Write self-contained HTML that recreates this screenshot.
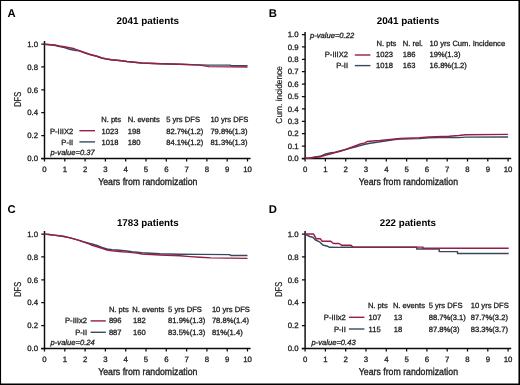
<!DOCTYPE html>
<html><head><meta charset="utf-8"><style>
html,body{margin:0;padding:0;background:#fff;width:520px;height:385px;overflow:hidden}
svg{display:block;filter:blur(0.35px)}
text{text-rendering:geometricPrecision}
</style></head><body>
<svg width="520" height="385" viewBox="0 0 520 385" font-family='"Liberation Sans", sans-serif'>
<rect width="520" height="385" fill="#fff"/>
<text x="7.6" y="17.0" font-size="11.3" font-weight="bold" fill="#000">A</text>
<text x="147.8" y="23.7" font-size="9.8" text-anchor="middle" font-weight="bold" textLength="62.5" lengthAdjust="spacingAndGlyphs" fill="#000">2041 patients</text>
<path d="M44.50 41.00V158.50M41.20 158.50H250.60" stroke="#0c0c0c" stroke-width="1.45" fill="none"/>
<path d="M41.30 158.50H44.50M41.30 135.62H44.50M41.30 112.74H44.50M41.30 89.86H44.50M41.30 66.98H44.50M41.30 44.10H44.50M44.50 158.50V161.40M64.80 158.50V161.40M85.10 158.50V161.40M105.40 158.50V161.40M125.70 158.50V161.40M146.00 158.50V161.40M166.30 158.50V161.40M186.60 158.50V161.40M206.90 158.50V161.40M227.20 158.50V161.40M247.50 158.50V161.40" stroke="#0c0c0c" stroke-width="1.25" fill="none"/>
<text x="38.0" y="161.20" font-size="7.8" text-anchor="end" fill="#1e1e1e" stroke="#1e1e1e" stroke-width="0.3">0.0</text>
<text x="38.0" y="138.32" font-size="7.8" text-anchor="end" fill="#1e1e1e" stroke="#1e1e1e" stroke-width="0.3">0.2</text>
<text x="38.0" y="115.44" font-size="7.8" text-anchor="end" fill="#1e1e1e" stroke="#1e1e1e" stroke-width="0.3">0.4</text>
<text x="38.0" y="92.56" font-size="7.8" text-anchor="end" fill="#1e1e1e" stroke="#1e1e1e" stroke-width="0.3">0.6</text>
<text x="38.0" y="69.68" font-size="7.8" text-anchor="end" fill="#1e1e1e" stroke="#1e1e1e" stroke-width="0.3">0.8</text>
<text x="38.0" y="46.80" font-size="7.8" text-anchor="end" fill="#1e1e1e" stroke="#1e1e1e" stroke-width="0.3">1.0</text>
<text x="44.50" y="171.6" font-size="7.8" text-anchor="middle" fill="#1e1e1e" stroke="#1e1e1e" stroke-width="0.3">0</text>
<text x="64.80" y="171.6" font-size="7.8" text-anchor="middle" fill="#1e1e1e" stroke="#1e1e1e" stroke-width="0.3">1</text>
<text x="85.10" y="171.6" font-size="7.8" text-anchor="middle" fill="#1e1e1e" stroke="#1e1e1e" stroke-width="0.3">2</text>
<text x="105.40" y="171.6" font-size="7.8" text-anchor="middle" fill="#1e1e1e" stroke="#1e1e1e" stroke-width="0.3">3</text>
<text x="125.70" y="171.6" font-size="7.8" text-anchor="middle" fill="#1e1e1e" stroke="#1e1e1e" stroke-width="0.3">4</text>
<text x="146.00" y="171.6" font-size="7.8" text-anchor="middle" fill="#1e1e1e" stroke="#1e1e1e" stroke-width="0.3">5</text>
<text x="166.30" y="171.6" font-size="7.8" text-anchor="middle" fill="#1e1e1e" stroke="#1e1e1e" stroke-width="0.3">6</text>
<text x="186.60" y="171.6" font-size="7.8" text-anchor="middle" fill="#1e1e1e" stroke="#1e1e1e" stroke-width="0.3">7</text>
<text x="206.90" y="171.6" font-size="7.8" text-anchor="middle" fill="#1e1e1e" stroke="#1e1e1e" stroke-width="0.3">8</text>
<text x="227.20" y="171.6" font-size="7.8" text-anchor="middle" fill="#1e1e1e" stroke="#1e1e1e" stroke-width="0.3">9</text>
<text x="247.50" y="171.6" font-size="7.8" text-anchor="middle" fill="#1e1e1e" stroke="#1e1e1e" stroke-width="0.3">10</text>
<text x="98.2" y="185.0" font-size="10.0" textLength="99.2" lengthAdjust="spacingAndGlyphs" fill="#1e1e1e" stroke="#1e1e1e" stroke-width="0.35">Years from randomization</text>
<text transform="translate(21.40 99.35) rotate(-90)" font-size="9.9" text-anchor="middle" textLength="15.0" lengthAdjust="spacingAndGlyphs" fill="#1e1e1e" stroke="#1e1e1e" stroke-width="0.2">DFS</text>
<path d="M44.50 44.20 L54.45 45.20 L59.52 46.50 L64.39 47.50 L69.47 49.20 L74.54 50.20 L76.57 50.60 L79.42 50.90 L84.09 52.50 L89.16 54.20 L92.00 55.00 L96.87 56.20 L101.75 58.00 L106.62 59.00 L111.49 59.70 L116.56 60.30 L121.64 60.80 L126.92 61.50 L131.79 62.00 L136.87 62.50 L141.94 63.00 L160.21 63.70 L179.90 64.20 L200.00 64.90 L208.93 65.10 L230.25 65.10 L231.26 65.80 L247.50 65.80" stroke="#38495e" stroke-width="1.45" fill="none" stroke-linejoin="round"/>
<path d="M44.50 44.20 L54.45 45.00 L59.52 46.00 L64.39 46.80 L69.47 47.80 L74.54 48.80 L76.57 49.80 L79.42 50.80 L84.09 52.50 L89.16 54.20 L92.00 55.00 L96.87 56.20 L101.75 58.00 L106.62 59.00 L111.49 59.70 L116.56 60.30 L121.64 60.80 L126.92 61.50 L131.79 62.00 L136.87 62.50 L141.94 63.00 L160.21 63.70 L179.90 64.20 L200.00 65.10 L208.93 66.60 L231.26 66.90 L247.50 66.90" stroke="#961e47" stroke-width="1.45" fill="none" stroke-linejoin="round"/>
<text x="101.20" y="121.60" font-size="7.6" fill="#1e1e1e" stroke="#1e1e1e" stroke-width="0.3">N. pts</text>
<text x="127.70" y="121.60" font-size="7.6" fill="#1e1e1e" stroke="#1e1e1e" stroke-width="0.3">N. events</text>
<text x="166.20" y="121.60" font-size="7.6" fill="#1e1e1e" stroke="#1e1e1e" stroke-width="0.3">5 yrs DFS</text>
<text x="210.40" y="121.60" font-size="7.6" fill="#1e1e1e" stroke="#1e1e1e" stroke-width="0.3">10 yrs DFS</text>
<text x="73.20" y="133.70" font-size="7.6" text-anchor="end" fill="#1e1e1e" stroke="#1e1e1e" stroke-width="0.3">P-IIIX2</text>
<path d="M79.40 130.70H95.00" stroke="#961e47" stroke-width="1.4"/>
<text x="101.50" y="133.70" font-size="7.6" fill="#1e1e1e" stroke="#1e1e1e" stroke-width="0.3">1023</text>
<text x="127.70" y="133.70" font-size="7.6" fill="#1e1e1e" stroke="#1e1e1e" stroke-width="0.3">198</text>
<text x="166.20" y="133.70" font-size="7.6" fill="#1e1e1e" stroke="#1e1e1e" stroke-width="0.3">82.7%(1.2)</text>
<text x="210.40" y="133.70" font-size="7.6" fill="#1e1e1e" stroke="#1e1e1e" stroke-width="0.3">79.8%(1.3)</text>
<text x="73.20" y="144.90" font-size="7.6" text-anchor="end" fill="#1e1e1e" stroke="#1e1e1e" stroke-width="0.3">P-II</text>
<path d="M79.40 141.90H95.00" stroke="#38495e" stroke-width="1.4"/>
<text x="101.50" y="144.90" font-size="7.6" fill="#1e1e1e" stroke="#1e1e1e" stroke-width="0.3">1018</text>
<text x="127.70" y="144.90" font-size="7.6" fill="#1e1e1e" stroke="#1e1e1e" stroke-width="0.3">180</text>
<text x="166.20" y="144.90" font-size="7.6" fill="#1e1e1e" stroke="#1e1e1e" stroke-width="0.3">84.1%(1.2)</text>
<text x="210.40" y="144.90" font-size="7.6" fill="#1e1e1e" stroke="#1e1e1e" stroke-width="0.3">81.3%(1.3)</text>
<text x="50.60" y="155.20" font-size="7.6" font-style="italic" fill="#1e1e1e" stroke="#1e1e1e" stroke-width="0.3">p-value=0.37</text>
<text x="268.8" y="17.0" font-size="11.3" font-weight="bold" fill="#000">B</text>
<text x="407.90000000000003" y="23.6" font-size="9.8" text-anchor="middle" font-weight="bold" textLength="62.5" lengthAdjust="spacingAndGlyphs" fill="#000">2041 patients</text>
<path d="M305.10 32.00V158.50M301.80 158.50H511.20" stroke="#0c0c0c" stroke-width="1.45" fill="none"/>
<path d="M301.90 158.50H305.10M301.90 146.10H305.10M301.90 133.70H305.10M301.90 121.30H305.10M301.90 108.90H305.10M301.90 96.50H305.10M301.90 84.10H305.10M301.90 71.70H305.10M301.90 59.30H305.10M301.90 46.90H305.10M301.90 34.50H305.10M305.10 158.50V161.40M325.40 158.50V161.40M345.70 158.50V161.40M366.00 158.50V161.40M386.30 158.50V161.40M406.60 158.50V161.40M426.90 158.50V161.40M447.20 158.50V161.40M467.50 158.50V161.40M487.80 158.50V161.40M508.10 158.50V161.40" stroke="#0c0c0c" stroke-width="1.25" fill="none"/>
<text x="298.6" y="161.20" font-size="7.8" text-anchor="end" fill="#1e1e1e" stroke="#1e1e1e" stroke-width="0.3">0.0</text>
<text x="298.6" y="148.80" font-size="7.8" text-anchor="end" fill="#1e1e1e" stroke="#1e1e1e" stroke-width="0.3">0.1</text>
<text x="298.6" y="136.40" font-size="7.8" text-anchor="end" fill="#1e1e1e" stroke="#1e1e1e" stroke-width="0.3">0.2</text>
<text x="298.6" y="124.00" font-size="7.8" text-anchor="end" fill="#1e1e1e" stroke="#1e1e1e" stroke-width="0.3">0.3</text>
<text x="298.6" y="111.60" font-size="7.8" text-anchor="end" fill="#1e1e1e" stroke="#1e1e1e" stroke-width="0.3">0.4</text>
<text x="298.6" y="99.20" font-size="7.8" text-anchor="end" fill="#1e1e1e" stroke="#1e1e1e" stroke-width="0.3">0.5</text>
<text x="298.6" y="86.80" font-size="7.8" text-anchor="end" fill="#1e1e1e" stroke="#1e1e1e" stroke-width="0.3">0.6</text>
<text x="298.6" y="74.40" font-size="7.8" text-anchor="end" fill="#1e1e1e" stroke="#1e1e1e" stroke-width="0.3">0.7</text>
<text x="298.6" y="62.00" font-size="7.8" text-anchor="end" fill="#1e1e1e" stroke="#1e1e1e" stroke-width="0.3">0.8</text>
<text x="298.6" y="49.60" font-size="7.8" text-anchor="end" fill="#1e1e1e" stroke="#1e1e1e" stroke-width="0.3">0.9</text>
<text x="298.6" y="37.20" font-size="7.8" text-anchor="end" fill="#1e1e1e" stroke="#1e1e1e" stroke-width="0.3">1.0</text>
<text x="305.10" y="171.6" font-size="7.8" text-anchor="middle" fill="#1e1e1e" stroke="#1e1e1e" stroke-width="0.3">0</text>
<text x="325.40" y="171.6" font-size="7.8" text-anchor="middle" fill="#1e1e1e" stroke="#1e1e1e" stroke-width="0.3">1</text>
<text x="345.70" y="171.6" font-size="7.8" text-anchor="middle" fill="#1e1e1e" stroke="#1e1e1e" stroke-width="0.3">2</text>
<text x="366.00" y="171.6" font-size="7.8" text-anchor="middle" fill="#1e1e1e" stroke="#1e1e1e" stroke-width="0.3">3</text>
<text x="386.30" y="171.6" font-size="7.8" text-anchor="middle" fill="#1e1e1e" stroke="#1e1e1e" stroke-width="0.3">4</text>
<text x="406.60" y="171.6" font-size="7.8" text-anchor="middle" fill="#1e1e1e" stroke="#1e1e1e" stroke-width="0.3">5</text>
<text x="426.90" y="171.6" font-size="7.8" text-anchor="middle" fill="#1e1e1e" stroke="#1e1e1e" stroke-width="0.3">6</text>
<text x="447.20" y="171.6" font-size="7.8" text-anchor="middle" fill="#1e1e1e" stroke="#1e1e1e" stroke-width="0.3">7</text>
<text x="467.50" y="171.6" font-size="7.8" text-anchor="middle" fill="#1e1e1e" stroke="#1e1e1e" stroke-width="0.3">8</text>
<text x="487.80" y="171.6" font-size="7.8" text-anchor="middle" fill="#1e1e1e" stroke="#1e1e1e" stroke-width="0.3">9</text>
<text x="508.10" y="171.6" font-size="7.8" text-anchor="middle" fill="#1e1e1e" stroke="#1e1e1e" stroke-width="0.3">10</text>
<text x="358.8" y="185.0" font-size="10.0" textLength="99.2" lengthAdjust="spacingAndGlyphs" fill="#1e1e1e" stroke="#1e1e1e" stroke-width="0.35">Years from randomization</text>
<text transform="translate(281.90 94.85) rotate(-90)" font-size="8.8" text-anchor="middle" textLength="57.6" lengthAdjust="spacingAndGlyphs" fill="#1e1e1e" stroke="#1e1e1e" stroke-width="0.2">Cum. incidence</text>
<path d="M305.10 158.30 L309.16 158.10 L315.25 157.00 L320.12 156.30 L324.99 154.20 L330.07 153.00 L335.14 152.20 L340.02 151.00 L344.69 149.80 L349.76 148.20 L355.04 147.00 L360.32 145.60 L364.99 144.30 L370.06 143.20 L375.14 142.50 L380.21 141.80 L385.08 141.00 L390.16 140.20 L395.03 139.50 L400.10 139.10 L419.19 138.60 L428.93 137.80 L449.03 137.40 L458.97 137.60 L465.47 137.10 L508.10 137.00" stroke="#38495e" stroke-width="1.45" fill="none" stroke-linejoin="round"/>
<path d="M305.10 158.30 L309.16 158.20 L315.25 157.30 L320.12 156.80 L324.99 155.20 L330.07 154.00 L335.14 152.60 L340.02 151.20 L344.69 149.90 L349.76 148.00 L355.04 146.00 L360.32 144.00 L364.99 142.90 L367.02 141.50 L370.06 141.20 L375.14 140.80 L380.21 140.50 L385.08 140.00 L390.16 139.50 L395.03 139.00 L400.10 138.50 L419.19 137.80 L428.93 137.00 L449.03 136.30 L458.97 135.50 L465.47 134.70 L508.10 134.40" stroke="#961e47" stroke-width="1.45" fill="none" stroke-linejoin="round"/>
<text x="310.00" y="38.00" font-size="7.6" font-style="italic" fill="#1e1e1e" stroke="#1e1e1e" stroke-width="0.3">p-value=0.22</text>
<text x="376.50" y="45.90" font-size="7.6" fill="#1e1e1e" stroke="#1e1e1e" stroke-width="0.3">N. pts</text>
<text x="402.70" y="45.90" font-size="7.6" fill="#1e1e1e" stroke="#1e1e1e" stroke-width="0.3">N. rel.</text>
<text x="429.60" y="45.90" font-size="7.6" fill="#1e1e1e" stroke="#1e1e1e" stroke-width="0.3">10 yrs Cum. Incidence</text>
<text x="348.00" y="57.10" font-size="7.6" text-anchor="end" fill="#1e1e1e" stroke="#1e1e1e" stroke-width="0.3">P-IIIX2</text>
<path d="M354.80 55.00H370.40" stroke="#961e47" stroke-width="1.4"/>
<text x="376.00" y="57.10" font-size="7.6" fill="#1e1e1e" stroke="#1e1e1e" stroke-width="0.3">1023</text>
<text x="402.70" y="57.10" font-size="7.6" fill="#1e1e1e" stroke="#1e1e1e" stroke-width="0.3">186</text>
<text x="429.60" y="57.10" font-size="7.6" fill="#1e1e1e" stroke="#1e1e1e" stroke-width="0.3">19%(1.3)</text>
<text x="348.00" y="68.10" font-size="7.6" text-anchor="end" fill="#1e1e1e" stroke="#1e1e1e" stroke-width="0.3">P-II</text>
<path d="M354.80 65.60H370.40" stroke="#38495e" stroke-width="1.4"/>
<text x="376.00" y="68.10" font-size="7.6" fill="#1e1e1e" stroke="#1e1e1e" stroke-width="0.3">1018</text>
<text x="402.70" y="68.10" font-size="7.6" fill="#1e1e1e" stroke="#1e1e1e" stroke-width="0.3">163</text>
<text x="429.60" y="68.10" font-size="7.6" fill="#1e1e1e" stroke="#1e1e1e" stroke-width="0.3">16.8%(1.2)</text>
<text x="7.6" y="212.9" font-size="11.3" font-weight="bold" fill="#000">C</text>
<text x="147.8" y="226.1" font-size="9.8" text-anchor="middle" font-weight="bold" textLength="61.8" lengthAdjust="spacingAndGlyphs" fill="#000">1783 patients</text>
<path d="M44.50 231.00V348.50M41.20 348.50H250.60" stroke="#0c0c0c" stroke-width="1.45" fill="none"/>
<path d="M41.30 348.50H44.50M41.30 325.62H44.50M41.30 302.74H44.50M41.30 279.86H44.50M41.30 256.98H44.50M41.30 234.10H44.50M44.50 348.50V351.40M64.80 348.50V351.40M85.10 348.50V351.40M105.40 348.50V351.40M125.70 348.50V351.40M146.00 348.50V351.40M166.30 348.50V351.40M186.60 348.50V351.40M206.90 348.50V351.40M227.20 348.50V351.40M247.50 348.50V351.40" stroke="#0c0c0c" stroke-width="1.25" fill="none"/>
<text x="38.0" y="351.20" font-size="7.8" text-anchor="end" fill="#1e1e1e" stroke="#1e1e1e" stroke-width="0.3">0.0</text>
<text x="38.0" y="328.32" font-size="7.8" text-anchor="end" fill="#1e1e1e" stroke="#1e1e1e" stroke-width="0.3">0.2</text>
<text x="38.0" y="305.44" font-size="7.8" text-anchor="end" fill="#1e1e1e" stroke="#1e1e1e" stroke-width="0.3">0.4</text>
<text x="38.0" y="282.56" font-size="7.8" text-anchor="end" fill="#1e1e1e" stroke="#1e1e1e" stroke-width="0.3">0.6</text>
<text x="38.0" y="259.68" font-size="7.8" text-anchor="end" fill="#1e1e1e" stroke="#1e1e1e" stroke-width="0.3">0.8</text>
<text x="38.0" y="236.80" font-size="7.8" text-anchor="end" fill="#1e1e1e" stroke="#1e1e1e" stroke-width="0.3">1.0</text>
<text x="44.50" y="361.6" font-size="7.8" text-anchor="middle" fill="#1e1e1e" stroke="#1e1e1e" stroke-width="0.3">0</text>
<text x="64.80" y="361.6" font-size="7.8" text-anchor="middle" fill="#1e1e1e" stroke="#1e1e1e" stroke-width="0.3">1</text>
<text x="85.10" y="361.6" font-size="7.8" text-anchor="middle" fill="#1e1e1e" stroke="#1e1e1e" stroke-width="0.3">2</text>
<text x="105.40" y="361.6" font-size="7.8" text-anchor="middle" fill="#1e1e1e" stroke="#1e1e1e" stroke-width="0.3">3</text>
<text x="125.70" y="361.6" font-size="7.8" text-anchor="middle" fill="#1e1e1e" stroke="#1e1e1e" stroke-width="0.3">4</text>
<text x="146.00" y="361.6" font-size="7.8" text-anchor="middle" fill="#1e1e1e" stroke="#1e1e1e" stroke-width="0.3">5</text>
<text x="166.30" y="361.6" font-size="7.8" text-anchor="middle" fill="#1e1e1e" stroke="#1e1e1e" stroke-width="0.3">6</text>
<text x="186.60" y="361.6" font-size="7.8" text-anchor="middle" fill="#1e1e1e" stroke="#1e1e1e" stroke-width="0.3">7</text>
<text x="206.90" y="361.6" font-size="7.8" text-anchor="middle" fill="#1e1e1e" stroke="#1e1e1e" stroke-width="0.3">8</text>
<text x="227.20" y="361.6" font-size="7.8" text-anchor="middle" fill="#1e1e1e" stroke="#1e1e1e" stroke-width="0.3">9</text>
<text x="247.50" y="361.6" font-size="7.8" text-anchor="middle" fill="#1e1e1e" stroke="#1e1e1e" stroke-width="0.3">10</text>
<text x="98.2" y="375.0" font-size="10.0" textLength="99.2" lengthAdjust="spacingAndGlyphs" fill="#1e1e1e" stroke="#1e1e1e" stroke-width="0.35">Years from randomization</text>
<text transform="translate(21.40 289.35) rotate(-90)" font-size="9.9" text-anchor="middle" textLength="15.0" lengthAdjust="spacingAndGlyphs" fill="#1e1e1e" stroke="#1e1e1e" stroke-width="0.2">DFS</text>
<path d="M44.50 234.10 L48.97 234.50 L54.04 235.10 L58.91 235.70 L63.99 236.50 L69.06 237.60 L73.94 238.90 L79.01 240.40 L84.09 242.00 L88.96 243.30 L92.00 244.00 L97.08 245.50 L101.95 247.50 L107.02 249.00 L112.10 249.70 L116.97 250.00 L122.05 250.50 L126.92 251.00 L131.99 251.80 L137.07 252.20 L141.94 252.80 L160.01 253.80 L179.90 254.30 L200.00 254.40 L229.23 254.60 L231.26 255.50 L247.50 255.50" stroke="#38495e" stroke-width="1.45" fill="none" stroke-linejoin="round"/>
<path d="M44.50 234.10 L48.97 234.50 L54.04 235.10 L58.91 235.70 L63.99 236.50 L69.06 237.60 L73.94 238.90 L79.01 240.40 L84.09 242.10 L88.96 243.90 L92.00 245.30 L97.08 246.80 L101.95 248.30 L107.02 250.00 L112.10 250.80 L116.97 251.30 L122.05 251.80 L126.92 252.10 L131.99 252.60 L137.07 253.10 L141.94 254.00 L160.01 255.00 L179.90 255.80 L190.05 256.60 L200.00 257.20 L210.96 257.90 L247.50 258.40" stroke="#961e47" stroke-width="1.45" fill="none" stroke-linejoin="round"/>
<text x="108.90" y="311.90" font-size="7.6" fill="#1e1e1e" stroke="#1e1e1e" stroke-width="0.3">N. pts</text>
<text x="132.30" y="311.90" font-size="7.6" fill="#1e1e1e" stroke="#1e1e1e" stroke-width="0.3">N. events</text>
<text x="168.10" y="311.90" font-size="7.6" fill="#1e1e1e" stroke="#1e1e1e" stroke-width="0.3">5 yrs DFS</text>
<text x="211.90" y="311.90" font-size="7.6" fill="#1e1e1e" stroke="#1e1e1e" stroke-width="0.3">10 yrs DFS</text>
<text x="87.00" y="323.10" font-size="7.6" text-anchor="end" fill="#1e1e1e" stroke="#1e1e1e" stroke-width="0.3">P-IIIx2</text>
<path d="M90.60 320.90H105.80" stroke="#961e47" stroke-width="1.4"/>
<text x="108.90" y="323.10" font-size="7.6" fill="#1e1e1e" stroke="#1e1e1e" stroke-width="0.3">896</text>
<text x="133.10" y="323.10" font-size="7.6" fill="#1e1e1e" stroke="#1e1e1e" stroke-width="0.3">182</text>
<text x="168.10" y="323.10" font-size="7.6" fill="#1e1e1e" stroke="#1e1e1e" stroke-width="0.3">81.9%(1.3)</text>
<text x="211.90" y="323.10" font-size="7.6" fill="#1e1e1e" stroke="#1e1e1e" stroke-width="0.3">78.8%(1.4)</text>
<text x="87.00" y="334.50" font-size="7.6" text-anchor="end" fill="#1e1e1e" stroke="#1e1e1e" stroke-width="0.3">P-II</text>
<path d="M90.60 332.30H105.80" stroke="#38495e" stroke-width="1.4"/>
<text x="108.90" y="334.50" font-size="7.6" fill="#1e1e1e" stroke="#1e1e1e" stroke-width="0.3">887</text>
<text x="133.10" y="334.50" font-size="7.6" fill="#1e1e1e" stroke="#1e1e1e" stroke-width="0.3">160</text>
<text x="168.10" y="334.50" font-size="7.6" fill="#1e1e1e" stroke="#1e1e1e" stroke-width="0.3">83.5%(1.3)</text>
<text x="211.90" y="334.50" font-size="7.6" fill="#1e1e1e" stroke="#1e1e1e" stroke-width="0.3">81%(1.4)</text>
<text x="50.60" y="345.10" font-size="7.6" font-style="italic" fill="#1e1e1e" stroke="#1e1e1e" stroke-width="0.3">p-value=0.24</text>
<text x="268.8" y="212.7" font-size="11.3" font-weight="bold" fill="#000">D</text>
<text x="407.90000000000003" y="226.2" font-size="9.8" text-anchor="middle" font-weight="bold" textLength="56.2" lengthAdjust="spacingAndGlyphs" fill="#000">222 patients</text>
<path d="M305.10 231.00V348.50M301.80 348.50H511.20" stroke="#0c0c0c" stroke-width="1.45" fill="none"/>
<path d="M301.90 348.50H305.10M301.90 325.62H305.10M301.90 302.74H305.10M301.90 279.86H305.10M301.90 256.98H305.10M301.90 234.10H305.10M305.10 348.50V351.40M325.40 348.50V351.40M345.70 348.50V351.40M366.00 348.50V351.40M386.30 348.50V351.40M406.60 348.50V351.40M426.90 348.50V351.40M447.20 348.50V351.40M467.50 348.50V351.40M487.80 348.50V351.40M508.10 348.50V351.40" stroke="#0c0c0c" stroke-width="1.25" fill="none"/>
<text x="298.6" y="351.20" font-size="7.8" text-anchor="end" fill="#1e1e1e" stroke="#1e1e1e" stroke-width="0.3">0.0</text>
<text x="298.6" y="328.32" font-size="7.8" text-anchor="end" fill="#1e1e1e" stroke="#1e1e1e" stroke-width="0.3">0.2</text>
<text x="298.6" y="305.44" font-size="7.8" text-anchor="end" fill="#1e1e1e" stroke="#1e1e1e" stroke-width="0.3">0.4</text>
<text x="298.6" y="282.56" font-size="7.8" text-anchor="end" fill="#1e1e1e" stroke="#1e1e1e" stroke-width="0.3">0.6</text>
<text x="298.6" y="259.68" font-size="7.8" text-anchor="end" fill="#1e1e1e" stroke="#1e1e1e" stroke-width="0.3">0.8</text>
<text x="298.6" y="236.80" font-size="7.8" text-anchor="end" fill="#1e1e1e" stroke="#1e1e1e" stroke-width="0.3">1.0</text>
<text x="305.10" y="361.6" font-size="7.8" text-anchor="middle" fill="#1e1e1e" stroke="#1e1e1e" stroke-width="0.3">0</text>
<text x="325.40" y="361.6" font-size="7.8" text-anchor="middle" fill="#1e1e1e" stroke="#1e1e1e" stroke-width="0.3">1</text>
<text x="345.70" y="361.6" font-size="7.8" text-anchor="middle" fill="#1e1e1e" stroke="#1e1e1e" stroke-width="0.3">2</text>
<text x="366.00" y="361.6" font-size="7.8" text-anchor="middle" fill="#1e1e1e" stroke="#1e1e1e" stroke-width="0.3">3</text>
<text x="386.30" y="361.6" font-size="7.8" text-anchor="middle" fill="#1e1e1e" stroke="#1e1e1e" stroke-width="0.3">4</text>
<text x="406.60" y="361.6" font-size="7.8" text-anchor="middle" fill="#1e1e1e" stroke="#1e1e1e" stroke-width="0.3">5</text>
<text x="426.90" y="361.6" font-size="7.8" text-anchor="middle" fill="#1e1e1e" stroke="#1e1e1e" stroke-width="0.3">6</text>
<text x="447.20" y="361.6" font-size="7.8" text-anchor="middle" fill="#1e1e1e" stroke="#1e1e1e" stroke-width="0.3">7</text>
<text x="467.50" y="361.6" font-size="7.8" text-anchor="middle" fill="#1e1e1e" stroke="#1e1e1e" stroke-width="0.3">8</text>
<text x="487.80" y="361.6" font-size="7.8" text-anchor="middle" fill="#1e1e1e" stroke="#1e1e1e" stroke-width="0.3">9</text>
<text x="508.10" y="361.6" font-size="7.8" text-anchor="middle" fill="#1e1e1e" stroke="#1e1e1e" stroke-width="0.3">10</text>
<text x="358.8" y="375.0" font-size="10.0" textLength="99.2" lengthAdjust="spacingAndGlyphs" fill="#1e1e1e" stroke="#1e1e1e" stroke-width="0.35">Years from randomization</text>
<text transform="translate(282.00 289.35) rotate(-90)" font-size="9.9" text-anchor="middle" textLength="15.0" lengthAdjust="spacingAndGlyphs" fill="#1e1e1e" stroke="#1e1e1e" stroke-width="0.2">DFS</text>
<path d="M304.70 233.90 L306.00 234.60 L309.70 236.50 L312.80 237.30 L315.50 240.00 L319.70 241.90 L322.80 245.00 L327.40 246.20 L329.50 247.30 L340.00 247.40 L341.00 247.20 L416.70 247.20 L416.70 249.00 L439.20 249.00 L439.20 251.60 L457.50 251.60 L457.50 253.40 L508.70 253.40" stroke="#38495e" stroke-width="1.45" fill="none" stroke-linejoin="round"/>
<path d="M304.70 233.90 L313.50 233.90 L316.20 238.80 L320.50 238.80 L322.00 241.20 L330.50 241.20 L333.50 243.50 L339.00 243.50 L341.50 245.20 L351.00 245.20 L353.00 247.10 L423.00 247.10 L423.00 248.20 L508.70 248.20" stroke="#961e47" stroke-width="1.45" fill="none" stroke-linejoin="round"/>
<text x="367.90" y="308.00" font-size="7.6" fill="#1e1e1e" stroke="#1e1e1e" stroke-width="0.3">N. pts</text>
<text x="392.90" y="308.00" font-size="7.6" fill="#1e1e1e" stroke="#1e1e1e" stroke-width="0.3">N. events</text>
<text x="428.70" y="308.00" font-size="7.6" fill="#1e1e1e" stroke="#1e1e1e" stroke-width="0.3">5 yrs DFS</text>
<text x="470.80" y="308.00" font-size="7.6" fill="#1e1e1e" stroke="#1e1e1e" stroke-width="0.3">10 yrs DFS</text>
<text x="345.80" y="320.10" font-size="7.6" text-anchor="end" fill="#1e1e1e" stroke="#1e1e1e" stroke-width="0.3">P-IIIx2</text>
<path d="M348.90 317.30H364.40" stroke="#961e47" stroke-width="1.4"/>
<text x="368.50" y="320.10" font-size="7.6" fill="#1e1e1e" stroke="#1e1e1e" stroke-width="0.3">107</text>
<text x="393.70" y="320.10" font-size="7.6" fill="#1e1e1e" stroke="#1e1e1e" stroke-width="0.3">13</text>
<text x="428.70" y="320.10" font-size="7.6" fill="#1e1e1e" stroke="#1e1e1e" stroke-width="0.3">88.7%(3.1)</text>
<text x="470.80" y="320.10" font-size="7.6" fill="#1e1e1e" stroke="#1e1e1e" stroke-width="0.3">87.7%(3.2)</text>
<text x="345.80" y="331.60" font-size="7.6" text-anchor="end" fill="#1e1e1e" stroke="#1e1e1e" stroke-width="0.3">P-II</text>
<path d="M348.90 329.00H364.40" stroke="#38495e" stroke-width="1.4"/>
<text x="368.50" y="331.60" font-size="7.6" fill="#1e1e1e" stroke="#1e1e1e" stroke-width="0.3">115</text>
<text x="393.70" y="331.60" font-size="7.6" fill="#1e1e1e" stroke="#1e1e1e" stroke-width="0.3">18</text>
<text x="428.70" y="331.60" font-size="7.6" fill="#1e1e1e" stroke="#1e1e1e" stroke-width="0.3">87.8%(3)</text>
<text x="470.80" y="331.60" font-size="7.6" fill="#1e1e1e" stroke="#1e1e1e" stroke-width="0.3">83.3%(3.7)</text>
<text x="311.50" y="345.00" font-size="7.6" font-style="italic" fill="#1e1e1e" stroke="#1e1e1e" stroke-width="0.3">p-value=0.43</text>
<path d="M0 0.5H520M0.5 0V385" stroke="#000" stroke-width="1.15" fill="none"/>
<path d="M0 384.25H520M519.25 0V385" stroke="#000" stroke-width="1.6" fill="none"/>
</svg>
</body></html>
